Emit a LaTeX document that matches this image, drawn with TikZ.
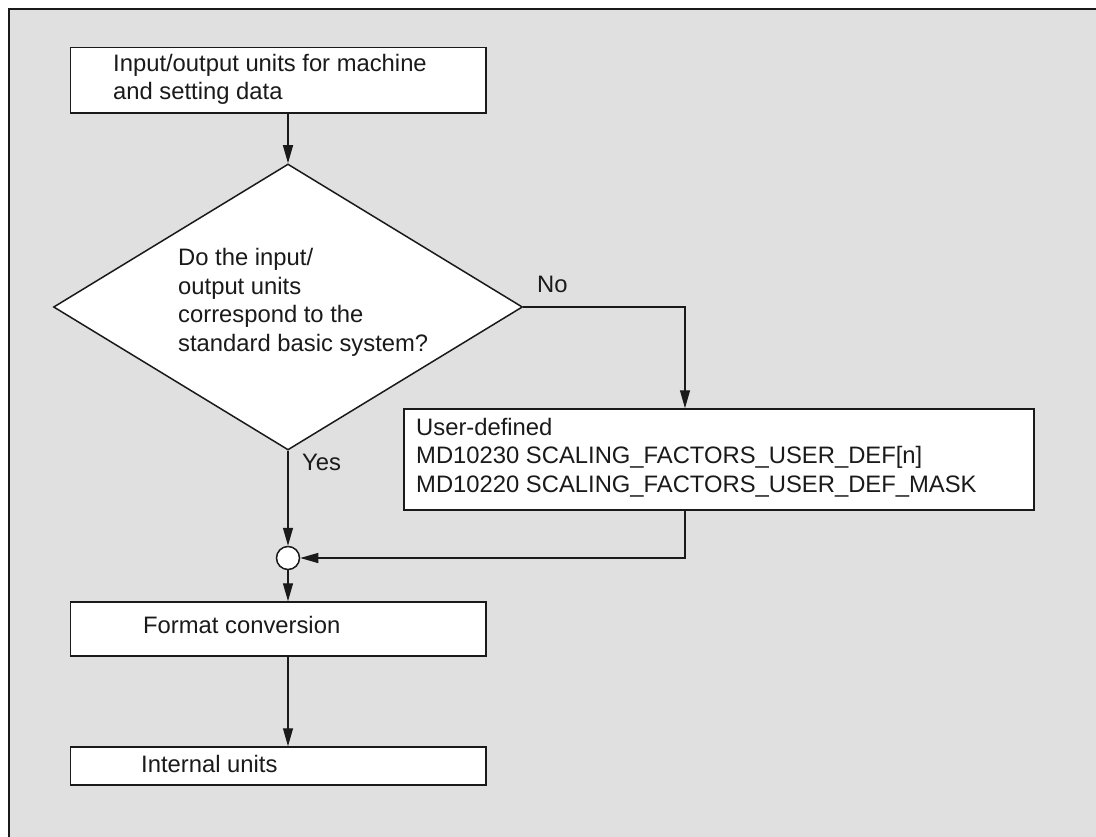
\documentclass[tikz,border=0pt]{standalone}
\usepackage{fontspec}
\setmainfont{Liberation Sans}
\usetikzlibrary{arrows.meta,shapes.geometric}
\definecolor{bg}{RGB}{224,224,224}
\definecolor{ink}{RGB}{26,26,26}
\begin{document}
\begin{tikzpicture}[x=1pt,y=-1pt,
  box/.style={draw=ink,fill=white,line width=1.5pt,inner sep=0pt,rectangle},
  txt/.style={anchor=base west,inner sep=0pt,align=left,font=\fontsize{23.8}{28.5}\selectfont,text=ink},
  arr/.style={draw=ink,line width=1.3pt,-{Triangle[length=18pt,width=10pt]}},
]
\useasboundingbox (0,0) rectangle (1096,837);
\fill[bg] (9,9) rectangle (1096,837);
\draw[ink,line width=2pt] (9,837) -- (9,9) -- (1096,9);

% boxes
\node[box,minimum width=415.5pt,minimum height=65.3pt] (b1) at (278.25,80.35) {};
\node[draw=ink,fill=white,line width=1.5pt,diamond,minimum width=469pt,minimum height=286pt,inner sep=0pt] (q) at (288,307) {};
\node[box,minimum width=630pt,minimum height=101pt] (ud) at (719,459.5) {};
\node[draw=ink,fill=white,line width=1.5pt,circle,minimum size=23pt,inner sep=0pt] (j) at (288,558) {};
\node[box,minimum width=415.3pt,minimum height=54pt] (fc) at (278.35,629) {};
\node[box,minimum width=415.3pt,minimum height=38pt] (iu) at (278.35,766) {};

% texts (anchor base = baseline of the last line)
\node[txt] (t1) at (113,100) {Input/output units for machine\\and setting data};
\node[txt] (tq) at (178,351.5) {Do the input/\\output units\\correspond to the\\standard basic system?};
\node[txt] (tud) at (416,492) {User-defined\\MD10230 SCALING\_FACTORS\_USER\_DEF[n]\\MD10220 SCALING\_FACTORS\_USER\_DEF\_MASK};
\node[txt] (tfc) at (143,633) {Format conversion};
\node[txt] (tiu) at (141,772) {Internal units};
\node[txt] (lno) at (537,293) {No};
\node[txt] (lyes) at (302,470) {Yes};

% connectors
\coordinate (nx) at (685,307);
\draw[arr] (b1.south -| q.north) -- (q.north);
\draw[arr] (q.east) -- (nx) -- (nx |- ud.north);
\draw[arr] (q.south) -- (j.north);
\draw[arr] (ud.south -| nx) |- (j.east);
\draw[arr] (j.south) -- (fc.north -| j.south);
\draw[arr] (fc.south -| j.south) -- (iu.north -| j.south);
\end{tikzpicture}
\end{document}
